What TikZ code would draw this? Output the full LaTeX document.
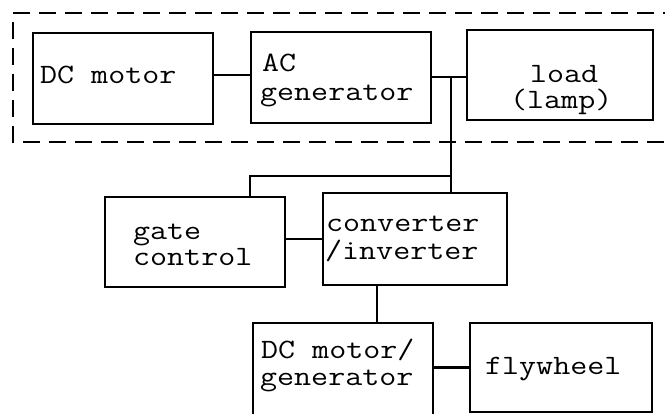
\documentclass[tikz,border=0pt]{standalone}
\usepackage{fontspec}
\newfontfamily\twfont{Latin Modern Mono}[FakeStretch=1.18]
\newcommand\lbfont{\twfont\fontsize{28}{28}\selectfont}
\begin{document}
\begin{tikzpicture}[x=1pt,y=-1pt,
  box/.style={draw, line width=2.4pt, inner sep=0pt, rectangle},
  wire/.style={line width=2.4pt},
  frame/.style={line width=2.2pt, dash pattern=on 17pt off 9pt},
  lbl/.style={font=\lbfont, anchor=base west, inner sep=0pt, text=black}]
\useasboundingbox (0,0) rectangle (665,414);
\fill[white] (0,0) rectangle (665,414);
\clip (0,0) rectangle (665,414);

% dashed frame
\coordinate (ftr) at (680,13);
\coordinate (ftl) at (13,13);
\coordinate (fbl) at (13,142);
\coordinate (fbr) at (680,142);
\draw[frame] (ftr) -- (ftl) -- (fbl) -- (fbr);

% boxes
\node[box, minimum width=180pt, minimum height=91pt] (dcm) at (123,78.5) {};
\node[box, minimum width=180pt, minimum height=91pt] (acg) at (341,77.5) {};
\node[box, minimum width=186pt, minimum height=90pt] (load) at (560,75) {};
\node[box, minimum width=180pt, minimum height=90pt] (gate) at (195,242) {};
\node[box, minimum width=184pt, minimum height=92pt] (conv) at (415,239) {};
\node[box, minimum width=180pt, minimum height=117pt] (dmg) at (343,381.5) {};
\node[box, minimum width=182pt, minimum height=89pt] (fly) at (561,367.5) {};

% labels
\node[lbl] (t1) at (40,84) {DC motor};
\node[lbl] (t2) at (262,72) {AC};
\node[lbl] (t3) at (260,101) {generator};
\node[lbl] (t4) at (530,83) {load};
\node[lbl] (t5) at (510,109) {(lamp)};
\node[lbl] (t6) at (133,240) {gate};
\node[lbl] (t7) at (133,266) {control};
\node[lbl] (t8) at (326,232) {converter};
\node[lbl] (t9) at (325,260) {/inverter};
\node[lbl] (t10) at (261,359) {DC motor/};
\node[lbl] (t11) at (260,386) {generator};
\node[lbl] (t12) at (485,375) {flywheel};

% connectors
\coordinate (jn) at (451,77);
\coordinate (gj) at (451,176);
\coordinate (gtop) at (250,176);
\coordinate (vx) at (377,0);
\draw[wire] (dcm.east |- 0,75) -- (acg.west |- 0,75);
\draw[wire] (acg.east |- jn) -- (load.west |- jn);
\draw[wire] (jn) -- (jn |- conv.north);
\draw[wire] (gj) -- (gtop) -- (gtop |- gate.north);
\draw[wire] (conv.west) -- (gate.east |- conv.west);
\draw[wire] (conv.south -| vx) -- (dmg.north -| vx);
\draw[wire] (fly.west) -- (fly.west -| dmg.east);
\end{tikzpicture}
\end{document}
